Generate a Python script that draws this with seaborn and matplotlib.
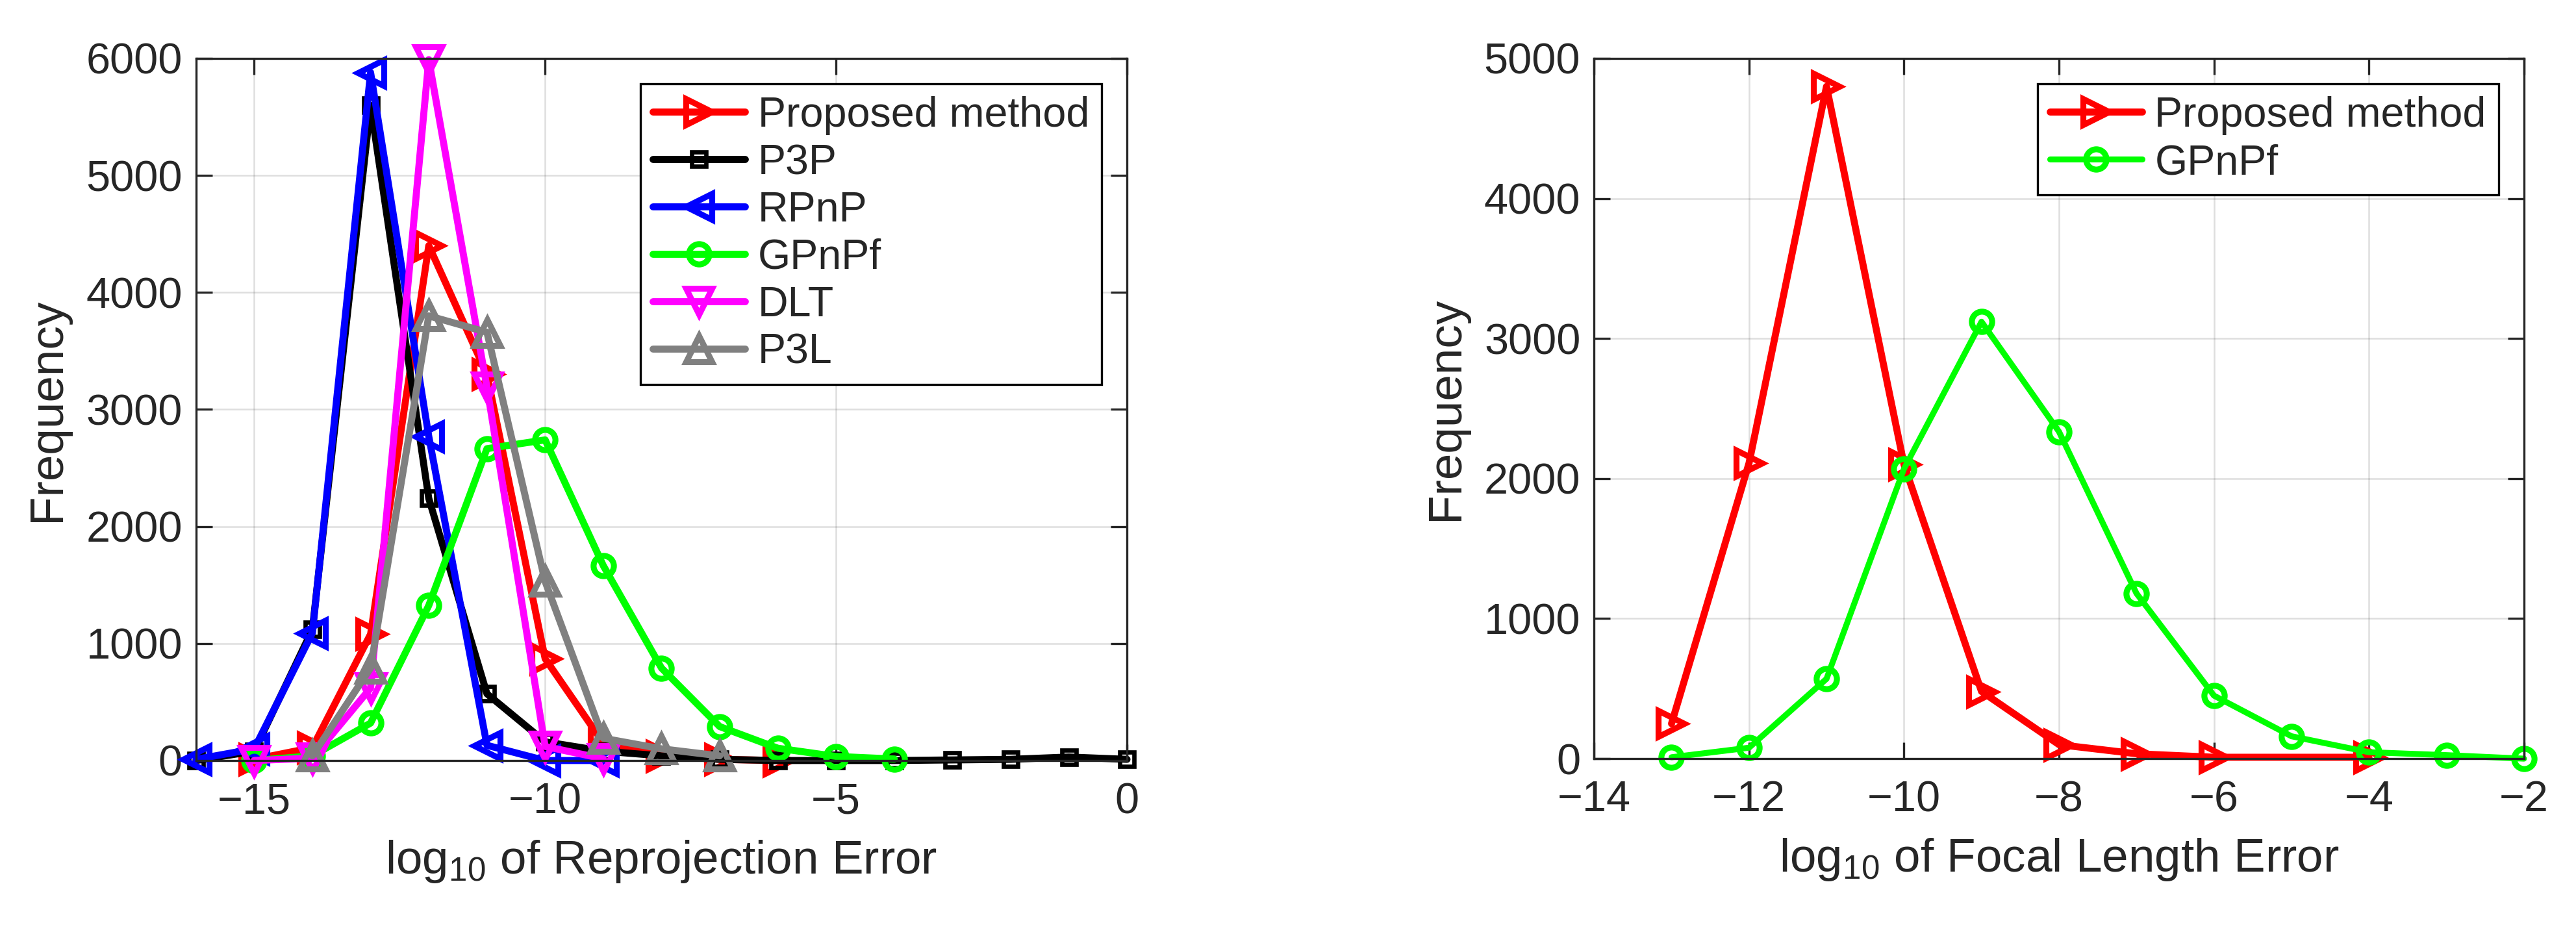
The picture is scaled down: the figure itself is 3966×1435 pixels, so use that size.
import matplotlib
matplotlib.use("Agg")
import matplotlib.pyplot as plt
import seaborn as sns
import numpy as np

# ---------------- data ----------------
# Left panel: log10 of reprojection error
prop_x = [-15, -14, -13, -12, -11, -10, -9, -8, -7, -6]
prop_y = [10, 110, 1080, 4400, 3300, 870, 150, 40, 10, 0]

p3p_x = [-16, -15, -14, -13, -12, -11, -10, -9, -8, -7, -6, -5, -4, -3, -2, -1, 0]
p3p_y = [0, 80, 1120, 5600, 2240, 570, 160, 80, 40, 10, 0, 0, 0, 5, 10, 30, 10]

rpnp_x = [-16, -15, -14, -13, -12, -11, -10, -9]
rpnp_y = [10, 100, 1090, 5880, 2770, 130, 0, 0]

gpnpf_x = [-15, -14, -13, -12, -11, -10, -9, -8, -7, -6, -5, -4]
gpnpf_y = [0, 40, 320, 1325, 2665, 2740, 1665, 790, 290, 105, 35, 13]

dlt_x = [-15, -14, -13, -12, -11, -10, -9]
dlt_y = [0, 20, 620, 5990, 3190, 120, 15]

p3l_x = [-14, -13, -12, -11, -10, -9, -8, -7]
p3l_y = [40, 790, 3800, 3660, 1530, 190, 100, 40]

# Right panel: log10 of focal length error
fprop_x = [-13, -12, -11, -10, -9, -8, -7, -6, -4]
fprop_y = [250, 2110, 4800, 2100, 480, 100, 35, 10, 10]

fgpnpf_x = [-13, -12, -11, -10, -9, -8, -7, -6, -5, -4, -3, -2]
fgpnpf_y = [10, 78, 570, 2070, 3120, 2335, 1180, 450, 160, 46, 25, 0]

left_xticks = [-15, -10, -5, 0]
left_yticks = [0, 1000, 2000, 3000, 4000, 5000, 6000]
right_xticks = [-14, -12, -10, -8, -6, -4, -2]
right_yticks = [0, 1000, 2000, 3000, 4000, 5000]

# ---------------- style ----------------
sns.set_style("ticks")
plt.rcParams['font.family'] = ['Liberation Sans', 'DejaVu Sans']
plt.rcParams['mathtext.default'] = 'regular'
plt.rcParams['axes.unicode_minus'] = True

DPI = 300
fig = plt.figure(figsize=(3966 / DPI, 1435 / DPI), dpi=DPI)
ax1 = fig.add_axes([0.0761, 0.184, 0.4375 - 0.0761, 0.9373 - 0.184])
ax2 = fig.add_axes([0.6188, 0.186, 0.9798 - 0.6188, 0.9373 - 0.186])

LW = 2.6
MEW = 2.2
TICK_FS = 16
LABEL_FS = 17.5
LEG_FS = 15.5


def draw(ax, x, y, color, marker, ms, label, lw=LW, mew=MEW):
    sns.lineplot(x=x, y=y, ax=ax, color=color, marker=marker, markersize=ms,
                 markerfacecolor='none', markeredgecolor=color,
                 markeredgewidth=mew, linewidth=lw, label=label, sort=False,
                 estimator=None)


draw(ax1, prop_x, prop_y, (1, 0, 0), '>', 9.5, 'Proposed method')
draw(ax1, p3p_x, p3p_y, (0, 0, 0), 's', 5.5, 'P3P', mew=1.6)
draw(ax1, rpnp_x, rpnp_y, (0, 0, 1), '<', 9.5, 'RPnP')
draw(ax1, gpnpf_x, gpnpf_y, (0, 1, 0), 'o', 7.5, 'GPnPf')
draw(ax1, dlt_x, dlt_y, (1, 0, 1), 'v', 9.5, 'DLT')
draw(ax1, p3l_x, p3l_y, (0.5, 0.5, 0.5), '^', 9.5, 'P3L')

draw(ax2, fprop_x, fprop_y, (1, 0, 0), '>', 9.5, 'Proposed method')
draw(ax2, fgpnpf_x, fgpnpf_y, (0, 1, 0), 'o', 7.5, 'GPnPf', lw=2.2)


def style(ax, xlim, ylim, xt, yt, xlabel):
    ax.set_xlim(*xlim)
    ax.set_ylim(*ylim)
    ax.set_xticks(xt)
    ax.set_yticks(yt)
    ax.grid(True, color=(0.15, 0.15, 0.15), alpha=0.15, linewidth=0.6)
    ax.set_axisbelow(True)
    for s in ax.spines.values():
        s.set_visible(True)
        s.set_color((0.15, 0.15, 0.15))
        s.set_linewidth(0.8)
    ax.tick_params(direction='in', length=6, width=0.8, top=True, right=True,
                   labelsize=TICK_FS, colors=(0.15, 0.15, 0.15))
    ax.tick_params(axis='x', pad=8)
    ax.tick_params(axis='y', pad=5)
    ax.set_xlabel(xlabel, fontsize=LABEL_FS, color=(0.15, 0.15, 0.15), labelpad=6)
    ax.set_ylabel('Frequency', fontsize=LABEL_FS, color=(0.15, 0.15, 0.15), labelpad=6)
    ax.set_facecolor('white')


style(ax1, (-16, 0), (0, 6000), left_xticks, left_yticks,
      r'log$_{10}$ of Reprojection Error')
style(ax2, (-14, -2), (0, 5000), right_xticks, right_yticks,
      r'log$_{10}$ of Focal Length Error')

for ax in (ax1, ax2):
    for ln in ax.get_lines():
        ln.set_clip_on(False)
    leg = ax.legend(loc='upper right', fontsize=LEG_FS, fancybox=False,
                    edgecolor='black', framealpha=1, borderpad=0.3,
                    labelspacing=0.2, handlelength=2.2, handletextpad=0.3,
                    borderaxespad=0.6)
    leg.get_frame().set_linewidth(0.8)

fig.savefig('out.png', dpi=DPI, facecolor='white')
